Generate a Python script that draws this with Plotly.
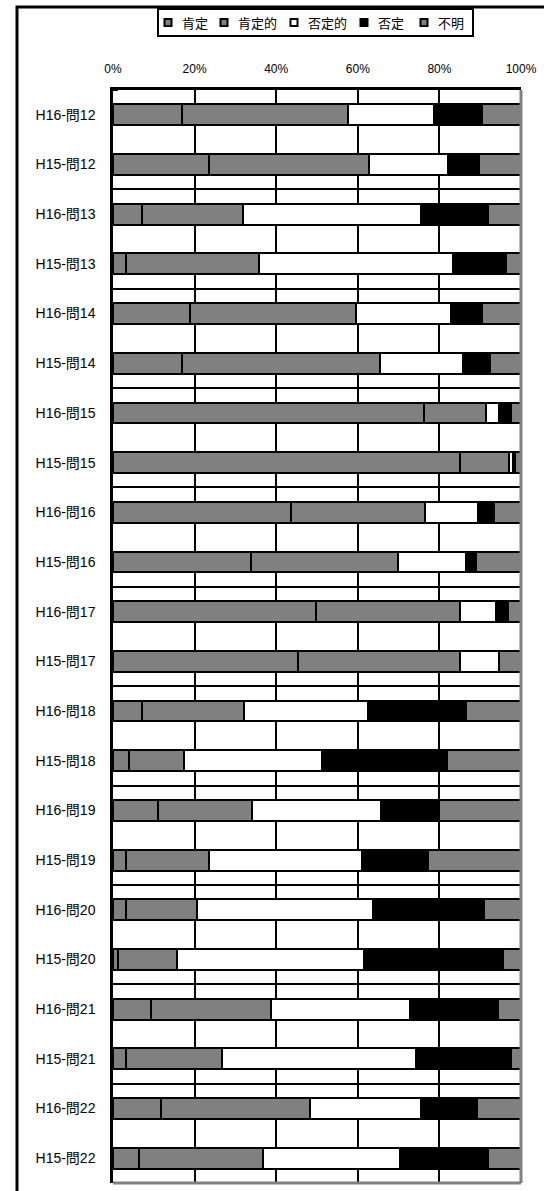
import plotly.graph_objects as go

categories = ["H16-問12", "H15-問12", "H16-問13", "H15-問13", "H16-問14", "H15-問14",
              "H16-問15", "H15-問15", "H16-問16", "H15-問16", "H16-問17", "H15-問17",
              "H16-問18", "H15-問18", "H16-問19", "H15-問19", "H16-問20", "H15-問20",
              "H16-問21", "H15-問21", "H16-問22", "H15-問22"]

kotei      = [16.9, 23.5, 7.2, 3.2, 18.9, 16.9, 76.2, 85.0, 43.6, 33.8, 49.8, 45.3,
              7.1, 3.8, 11.0, 3.2, 3.3, 1.3, 9.2, 3.2, 11.8, 6.4]
kotei_teki = [40.7, 39.3, 24.7, 32.7, 40.7, 48.5, 15.2, 12.0, 32.9, 36.1, 35.2, 39.7,
              25.0, 13.7, 23.1, 20.3, 17.4, 14.3, 29.6, 23.5, 36.6, 30.3]
hitei_teki = [21.1, 19.2, 43.6, 47.5, 23.2, 20.4, 3.2, 1.0, 13.0, 16.6, 8.9, 9.6,
              30.4, 33.7, 31.6, 37.5, 43.0, 45.9, 34.0, 47.6, 27.1, 33.6]
hitei      = [11.7, 7.8, 16.3, 12.9, 7.6, 6.6, 2.9, 0.5, 3.9, 2.5, 2.9, 0.0,
              24.0, 30.7, 14.2, 16.2, 27.2, 34.1, 21.6, 23.2, 13.7, 21.5]
fumei      = [9.6, 10.2, 8.2, 3.7, 9.6, 7.6, 2.5, 1.5, 6.6, 11.0, 3.2, 5.4,
              13.5, 18.1, 20.1, 22.8, 9.1, 4.4, 5.6, 2.5, 10.8, 8.2]

series_names = ["肯定", "肯定的", "否定的", "否定", "不明"]
series_values = [kotei, kotei_teki, hitei_teki, hitei, fumei]
series_colors = ["#808080", "#808080", "#ffffff", "#000000", "#808080"]

xticks = [0, 20, 40, 60, 80, 100]

FONT = "Liberation Sans, Arial, Noto Sans CJK JP, sans-serif"
CJK = "Noto Sans CJK JP, Liberation Sans, sans-serif"

ypos = list(range(len(categories)))

fig = go.Figure()
for name, vals, col in zip(series_names, series_values, series_colors):
    fig.add_trace(go.Bar(
        y=ypos, x=vals, name=name, orientation="h",
        width=0.42, showlegend=False,
        marker=dict(color=col, line=dict(color="#000000", width=2)),
    ))

W, H = 544, 1191
L, R, T, B = 113, 23, 90, 8
pw = W - L - R
ph = H - T - B

def px_to_paper_x(px):
    return (px - L) / pw

def px_to_paper_y(py):
    return 1 - (py - T) / ph

shapes = [
    # plot-area border (grey, right and bottom)
    dict(type="line", xref="paper", yref="paper", x0=1, x1=1, y0=0, y1=1,
         line=dict(color="#808080", width=3), layer="above"),
    dict(type="line", xref="paper", yref="paper", x0=0, x1=1, y0=0, y1=0,
         line=dict(color="#808080", width=3), layer="above"),
    # outer chart frame
    dict(type="rect", xref="paper", yref="paper",
         x0=px_to_paper_x(17), x1=px_to_paper_x(580),
         y0=px_to_paper_y(1230), y1=px_to_paper_y(7),
         line=dict(color="#000000", width=3), fillcolor="rgba(0,0,0,0)",
         layer="above"),
    # legend box
    dict(type="rect", xref="paper", yref="paper",
         x0=px_to_paper_x(158), x1=px_to_paper_x(473),
         y0=px_to_paper_y(36), y1=px_to_paper_y(9),
         line=dict(color="#000000", width=2), fillcolor="white",
         layer="above"),
]

annotations = []
# legend entries (manual, compact like the original)
sym_centers = [168, 224, 294, 364, 424]
text_starts = [180, 236, 306, 376, 436]
leg_cy = 22.5
for name, col, sx, tx in zip(series_names, series_colors, sym_centers, text_starts):
    shapes.append(dict(type="rect", xref="paper", yref="paper",
                       x0=px_to_paper_x(sx - 3.5), x1=px_to_paper_x(sx + 3.5),
                       y0=px_to_paper_y(leg_cy + 3.5), y1=px_to_paper_y(leg_cy - 3.5),
                       line=dict(color="#000000", width=2), fillcolor=col,
                       layer="above"))
    annotations.append(dict(xref="paper", yref="paper",
                            x=px_to_paper_x(tx), y=px_to_paper_y(leg_cy),
                            xanchor="left", yanchor="middle", showarrow=False,
                            text=name, font=dict(family=CJK, size=13, color="#000000")))

fig.update_layout(
    width=W, height=H,
    margin=dict(l=L, r=R, t=T, b=B, pad=0),
    barmode="stack",
    paper_bgcolor="white", plot_bgcolor="white",
    font=dict(family=FONT, color="#000000"),
    showlegend=False,
    xaxis=dict(
        side="top", range=[0, 100],
        tickvals=xticks, ticktext=[f"{v}%" for v in xticks],
        showgrid=True, gridcolor="#000000", gridwidth=2,
        zeroline=False,
        showline=True, linecolor="#000000", linewidth=2.5,
        ticks="", ticklabelstandoff=9,
        tickfont=dict(size=12, family=FONT),
        fixedrange=True,
    ),
    yaxis=dict(
        range=[len(categories) - 0.5, -0.5],
        tickvals=ypos, ticktext=categories,
        showgrid=False, zeroline=False,
        showline=True, linecolor="#000000", linewidth=2.5,
        ticks="", ticklabelstandoff=12,
        tickfont=dict(size=14, family=FONT),
        minor=dict(tick0=-0.5, dtick=2, showgrid=True, gridcolor="#000000",
                   gridwidth=1.5, ticks="inside", ticklen=5, tickwidth=2,
                   tickcolor="#000000"),
        fixedrange=True,
    ),
    shapes=shapes,
    annotations=annotations,
)

fig.write_html("out.html")
